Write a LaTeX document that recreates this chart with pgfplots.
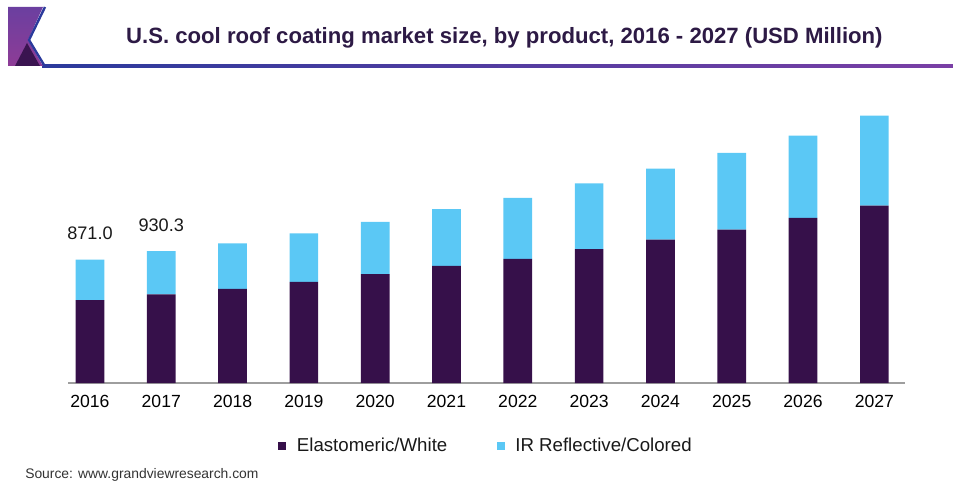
\documentclass[border=0pt]{standalone}
\usepackage{fontspec}
\setmainfont{Liberation Sans}
\usepackage{pgfplots}
\usepackage{pgfplotstable}
\pgfplotsset{compat=1.18}
\definecolor{darkp}{HTML}{36104A}
\definecolor{lightb}{HTML}{5BC8F5}
\definecolor{titlec}{HTML}{2D1A45}
\definecolor{lineblue}{HTML}{2B3A9C}
\definecolor{linepurp}{HTML}{7A3FA5}
\definecolor{logotop}{HTML}{6B3FA0}
\definecolor{logobot}{HTML}{8E3C96}
\definecolor{logodark}{HTML}{3A1450}

\pgfplotstableread{
x dark light
0 585 286
1 625 305.3
2 665 320
3 714 341
4 768 369
5 827 400
6 876 430
7 945 463
8 1012 501
9 1083 541
10 1165 580
11 1252 634
}\mydata

\begin{document}
\begin{tikzpicture}
\path[use as bounding box] (0,0) rectangle (714.75pt,364.5pt);
% header decoration
\shade[left color=lineblue, right color=linepurp] (31.5pt,313.5pt) rectangle (714.75pt,315.75pt);
\shade[top color=logotop, bottom color=logobot] (6pt,359.25pt) -- (32.25pt,359.25pt) -- (21pt,334.5pt) -- (32.25pt,315pt) -- (6pt,315pt) -- cycle;
\fill[logodark] (11.25pt,315pt) -- (20.25pt,332.25pt) -- (30pt,315pt) -- cycle;
\draw[lineblue, line width=1.8pt, line join=miter] (33.75pt,359.25pt) -- (21.75pt,334.5pt) -- (33.75pt,314.6pt);
% title
\node[anchor=base, inner sep=0pt, font=\fontsize{16.6}{20}\selectfont\bfseries, text=titlec] at (378.3pt,331.5pt) {U.S. cool roof coating market size, by product, 2016 - 2027 (USD Million)};
% source
\node[anchor=west, inner sep=0pt, font=\fontsize{10.4}{12}\selectfont, text=black!80] at (18.75pt,8.25pt) {Source: www.grandviewresearch.com};

\begin{axis}[
  at={(51pt,77.25pt)}, anchor=south west,
  scale only axis, width=627.75pt, height=212.25pt,
  ybar stacked, bar width=21.5pt,
  xmin=-0.308, xmax=11.43, ymin=0, ymax=1997,
  axis x line=bottom, axis y line=none,
  x axis line style={-, draw=black!38, line width=1.3pt},
  xtick=data,
  xticklabels={2016,2017,2018,2019,2020,2021,2022,2023,2024,2025,2026,2027},
  major tick length=0pt,
  xticklabel style={anchor=center, yshift=-13.5pt, font=\fontsize{13.2}{15}\selectfont, text=black},
  /pgf/number format/assume math mode=true,
  clip=false,
  legend columns=2,
  legend style={at={(0.2509,-0.2226)}, anchor=west, draw=none, fill=none, inner sep=0pt,
    font=\fontsize{14}{16}\selectfont, text=black!90,
    /tikz/every odd column/.append style={column sep=8pt},
    /tikz/every even column/.append style={column sep=37pt},
    nodes={inner sep=0pt}},
  legend image code/.code={\fill[#1] (0pt,-3pt) rectangle (6pt,3pt);},
]
\addplot[fill=darkp, draw=none] table[x=x, y=dark] {\mydata};
\addplot[fill=lightb, draw=none] table[x=x, y=light] {\mydata};
\legend{Elastomeric/White, IR Reflective/Colored}
\node[font=\fontsize{13.6}{15}\selectfont, text=black!90] at (axis cs:0,871) [yshift=19.5pt] {871.0};
\node[font=\fontsize{13.6}{15}\selectfont, text=black!90] at (axis cs:1,930.3) [yshift=19.5pt] {930.3};
\end{axis}
\end{tikzpicture}
\end{document}
